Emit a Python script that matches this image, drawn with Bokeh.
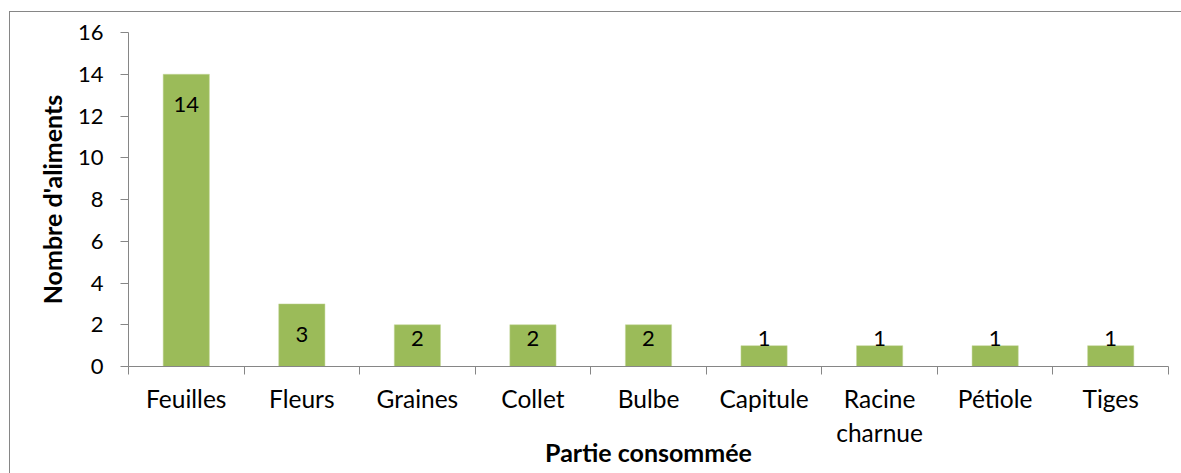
import numpy as np
from bokeh.plotting import figure
from bokeh.models import Range1d, FixedTicker, SingleIntervalTicker, ColumnDataSource
from bokeh.core.properties import value
from bokeh.embed import file_html
from bokeh.resources import INLINE

categories = ["Feuilles", "Fleurs", "Graines", "Collet", "Bulbe", "Capitule",
              "Racine\ncharnue", "Pétiole", "Tiges"]
counts = [14, 3, 2, 2, 2, 1, 1, 1, 1]
y_ticks_max = 16

FONT = "Lato"
GREEN = "#9BBB59"
GRAY = "#868686"

n = len(categories)
centers = np.arange(n) + 0.5
vals = np.array(counts, dtype=float)
# label positions: inside end of bar, kept above the axis
label_y = np.maximum(vals - 1.45, 1.33)

src = ColumnDataSource(dict(x=centers, top=vals, ly=label_y,
                            txt=[str(c) for c in counts]))

p = figure(width=1172, height=462, output_backend="svg", toolbar_location=None,
           x_range=Range1d(0, n), y_range=Range1d(0, y_ticks_max),
           min_border_left=118, min_border_right=14, min_border_top=20,
           min_border_bottom=108)
p.margin = (11, 0, 0, 9)
p.styles = {"border-top": f"1px solid {GRAY}", "border-left": f"1px solid {GRAY}"}
p.outline_line_color = None
p.xgrid.visible = False
p.ygrid.visible = False
p.background_fill_color = "white"
p.border_fill_color = "white"

p.vbar(x="x", top="top", width=0.4, bottom=0, source=src,
       fill_color=GREEN, line_color="#C4D79B", line_width=0.5)
p.text(x="x", y="ly", text="txt", source=src, text_align="center",
       text_baseline="middle", text_font=value(FONT), text_font_size="22px",
       text_color="black")

# x axis
xa = p.xaxis[0]
xa.ticker = FixedTicker(ticks=list(centers), minor_ticks=list(range(n + 1)))
xa.major_label_overrides = {float(c): lab for c, lab in zip(centers, categories)}
xa.major_tick_out = 0
xa.major_tick_in = 0
xa.minor_tick_out = 8
xa.minor_tick_in = 0
xa.minor_tick_line_color = GRAY
xa.axis_line_color = GRAY
xa.major_label_text_font = FONT
xa.major_label_text_font_size = "24.5px"
xa.major_label_text_color = "black"
xa.major_label_standoff = 9
xa.axis_label = "Partie consommée"
xa.axis_label_text_font = FONT
xa.axis_label_text_font_size = "25px"
xa.axis_label_text_font_style = "bold"
xa.axis_label_text_color = "black"
xa.axis_label_standoff = -13

# y axis
ya = p.yaxis[0]
ya.ticker = SingleIntervalTicker(interval=2, num_minor_ticks=0)
ya.major_tick_out = 8
ya.major_tick_in = 0
ya.minor_tick_out = 0
ya.minor_tick_in = 0
ya.major_tick_line_color = GRAY
ya.axis_line_color = GRAY
ya.major_label_text_font = FONT
ya.major_label_text_font_size = "22px"
ya.major_label_text_color = "black"
ya.major_label_standoff = 17
ya.axis_label = "Nombre d'aliments"
ya.axis_label_text_font = FONT
ya.axis_label_text_font_size = "25px"
ya.axis_label_text_font_style = "bold"
ya.axis_label_text_color = "black"
ya.axis_label_standoff = 8

open("out.html", "w").write(file_html(p, INLINE))
